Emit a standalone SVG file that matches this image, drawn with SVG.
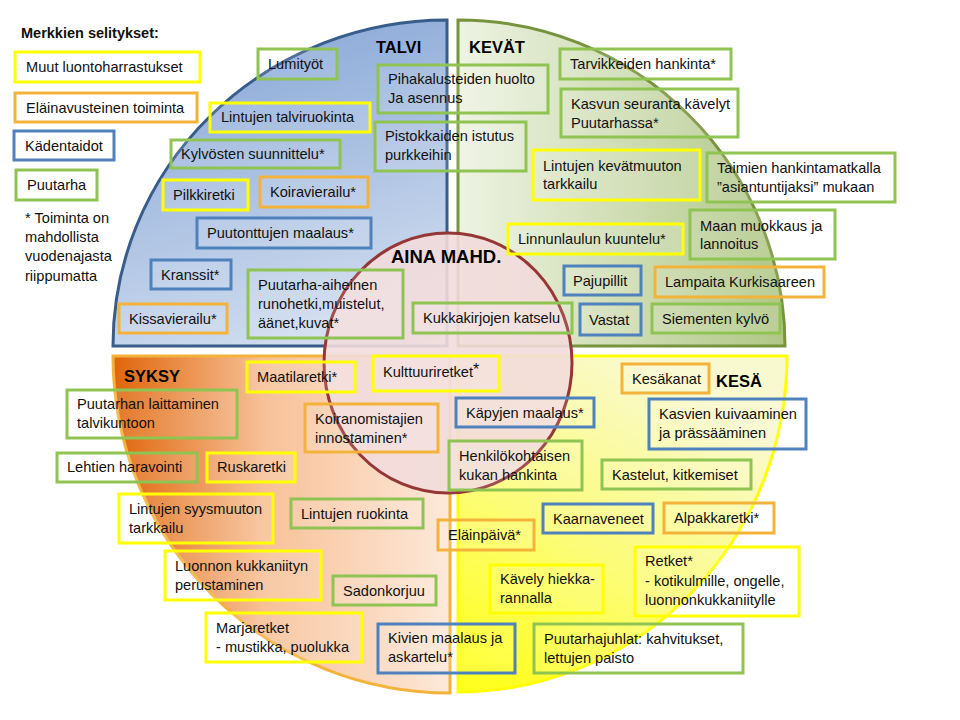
<svg xmlns="http://www.w3.org/2000/svg" width="960" height="720" viewBox="0 0 960 720">
<defs>
<linearGradient id="gTalvi" gradientUnits="userSpaceOnUse" x1="320" y1="20" x2="420" y2="346">
<stop offset="0" stop-color="#8dabd9"/><stop offset="1" stop-color="#d9e3f1"/>
</linearGradient>
<linearGradient id="gKevat" gradientUnits="userSpaceOnUse" x1="458" y1="0" x2="785" y2="0">
<stop offset="0" stop-color="#eef3e3"/><stop offset="1" stop-color="#b0c786"/>
</linearGradient>
<linearGradient id="gSyksy" gradientUnits="userSpaceOnUse" x1="113" y1="0" x2="450" y2="0">
<stop offset="0" stop-color="#e0650a"/><stop offset="0.45" stop-color="#f7c198"/><stop offset="1" stop-color="#fde9da"/>
</linearGradient>
<linearGradient id="gKesa" gradientUnits="userSpaceOnUse" x1="660" y1="370" x2="480" y2="670">
<stop offset="0" stop-color="#f9f9cf"/><stop offset="0.55" stop-color="#fcfc78"/><stop offset="1" stop-color="#ffff22"/>
</linearGradient>
</defs>
<style>
rect{fill:#fff;fill-opacity:0.12;stroke-width:3}
.y{stroke:#ffff00}
.o{stroke:#f3b33b}
.b{stroke:#4f81bd}
.g{stroke:#8fc453}
text{font-family:"Liberation Sans",Arial,sans-serif;font-size:14.6px;fill:#111}
.h{font-weight:bold;font-size:16.5px;fill:#000}
</style>
<rect width="960" height="720" fill="#fff" fill-opacity="1" stroke="none"/>

<g id="quadrants">
<path id="q-talvi" d="M447,346 L447,20 A334,326 0 0,0 113,346 Z" fill="url(#gTalvi)" stroke="#385d8a" stroke-width="3"/>
<path id="q-kevat" d="M458,346 L458,20 A327,326 0 0,1 785,346 Z" fill="url(#gKevat)" stroke="#77933c" stroke-width="3"/>
<path id="q-syksy" d="M450,356 L113,356 A337,337 0 0,0 450,693 Z" fill="url(#gSyksy)" stroke="#f3b33b" stroke-width="3"/>
<path id="q-kesa" d="M458,356 L787,356 A329,336 0 0,1 458,692 Z" fill="url(#gKesa)" stroke="#ffff00" stroke-width="3"/>
<ellipse id="q-aina" cx="448" cy="363" rx="124" ry="130" fill="#f2dcdb" fill-opacity="0.9" stroke="#953735" stroke-width="3"/>
</g>

<g id="legend">
<text x="21" y="38" style="font-weight:bold;font-size:14.5px">Merkkien selitykset:</text>
<g id="leg-muut"><rect class="y" x="15" y="52" width="185" height="30"/><text x="26" y="72">Muut luontoharrastukset</text></g>
<g id="leg-elain"><rect class="o" x="15" y="93" width="182" height="29"/><text x="26" y="113">Eläinavusteinen toiminta</text></g>
<g id="leg-kaden"><rect class="b" x="14" y="131" width="100" height="29"/><text x="25" y="151">Kädentaidot</text></g>
<g id="leg-puutarha"><rect class="g" x="16" y="170" width="81" height="30"/><text x="27" y="190">Puutarha</text></g>
<text x="25" y="223">* Toiminta on</text>
<text x="25" y="242">mahdollista</text>
<text x="25" y="261">vuodenajasta</text>
<text x="25" y="281">riippumatta</text>
</g>

<g id="labels">
<text class="h" x="376" y="53">TALVI</text>
<text class="h" x="469" y="53">KEVÄT</text>
<text class="h" x="124" y="382">SYKSY</text>
<text class="h" x="716" y="387">KESÄ</text>
<text class="h" x="391" y="263" style="font-size:18.5px">AINA MAHD.</text>
</g>

<g id="n-lumityot"><rect class="g" x="258" y="49" width="79" height="30"/><text x="268" y="69">Lumityöt</text></g>
<g id="n-talviruokinta"><rect class="y" x="210" y="103" width="160" height="29"/><text x="221" y="122">Lintujen talviruokinta</text></g>
<g id="n-kylvosten"><rect class="g" x="171" y="140" width="169" height="28"/><text x="181" y="159">Kylvösten suunnittelu*</text></g>
<g id="n-pilkkiretki"><rect class="y" x="163" y="180" width="85" height="30"/><text x="173" y="200">Pilkkiretki</text></g>
<g id="n-koiravierailu"><rect class="o" x="260" y="177" width="108" height="30"/><text x="270" y="197">Koiravierailu*</text></g>
<g id="n-puutonttujen"><rect class="b" x="197" y="218" width="174" height="30"/><text x="207" y="238">Puutonttujen maalaus*</text></g>
<g id="n-kranssit"><rect class="b" x="151" y="260" width="80" height="29"/><text x="161" y="280">Kranssit*</text></g>
<g id="n-runohetki"><rect class="g" x="248" y="270" width="155" height="68"/><text x="258" y="290">Puutarha-aiheinen</text><text x="258" y="309">runohetki,muistelut,</text><text x="258" y="328">äänet,kuvat*</text></g>
<g id="n-kissavierailu"><rect class="o" x="119" y="304" width="108" height="29"/><text x="129" y="324">Kissavierailu*</text></g>
<g id="n-pihakalusteet"><rect class="g" x="378" y="65" width="170" height="48"/><text x="388" y="84">Pihakalusteiden huolto</text><text x="388" y="103">Ja asennus</text></g>
<g id="n-pistokkaat"><rect class="g" x="375" y="122" width="151" height="49"/><text x="385" y="141">Pistokkaiden istutus</text><text x="385" y="160">purkkeihin</text></g>

<g id="n-tarvikkeet"><rect class="g" x="560" y="49" width="171" height="30"/><text x="570" y="69">Tarvikkeiden hankinta*</text></g>
<g id="n-kasvun"><rect class="g" x="561" y="89" width="177" height="48"/><text x="571" y="109">Kasvun seuranta kävelyt</text><text x="571" y="128">Puutarhassa*</text></g>
<g id="n-kevatmuutto"><rect class="y" x="533" y="150" width="167" height="50"/><text x="543" y="171">Lintujen kevätmuuton</text><text x="543" y="189">tarkkailu</text></g>
<g id="n-taimien"><rect class="g" x="707" y="153" width="188" height="49"/><text x="717" y="173">Taimien hankintamatkalla</text><text x="717" y="192">”asiantuntijaksi” mukaan</text></g>
<g id="n-maan"><rect class="g" x="690" y="210" width="145" height="49"/><text x="700" y="231">Maan muokkaus ja</text><text x="700" y="249">lannoitus</text></g>
<g id="n-linnunlaulu"><rect class="y" x="508" y="224" width="175" height="30"/><text x="518" y="244">Linnunlaulun kuuntelu*</text></g>
<g id="n-pajupillit"><rect class="b" x="564" y="266" width="77" height="29"/><text x="573" y="286">Pajupillit</text></g>
<g id="n-lampaita"><rect class="o" x="655" y="267" width="169" height="30"/><text x="665" y="287">Lampaita Kurkisaareen</text></g>
<g id="n-vastat"><rect class="b" x="580" y="304" width="61" height="31"/><text x="589" y="325">Vastat</text></g>
<g id="n-siementen"><rect class="g" x="652" y="304" width="128" height="29"/><text x="662" y="324">Siementen kylvö</text></g>

<g id="n-kukkakirjat"><rect class="g" x="413" y="303" width="159" height="30"/><text x="423" y="323">Kukkakirjojen katselu</text></g>
<g id="n-kulttuuri"><rect class="y" x="373" y="356" width="126" height="35"/><text x="383" y="377">Kulttuuriretket<tspan dy="-2" style="font-size:16px">*</tspan></text></g>
<g id="n-kapyjen"><rect class="b" x="456" y="398" width="138" height="29"/><text x="466" y="418">Käpyjen maalaus*</text></g>
<g id="n-koiranomistajat"><rect class="o" x="305" y="404" width="133" height="48"/><text x="315" y="424">Koiranomistajien</text><text x="315" y="443">innostaminen*</text></g>
<g id="n-henkilokohtainen"><rect class="g" x="449" y="441" width="133" height="49"/><text x="459" y="461">Henkilökohtaisen</text><text x="459" y="480">kukan hankinta</text></g>

<g id="n-maatila"><rect class="y" x="247" y="362" width="108" height="30"/><text x="257" y="382">Maatilaretki*</text></g>
<g id="n-puutarhan"><rect class="g" x="67" y="390" width="170" height="48"/><text x="77" y="409">Puutarhan laittaminen</text><text x="77" y="428">talvikuntoon</text></g>
<g id="n-lehtien"><rect class="g" x="57" y="453" width="140" height="29"/><text x="67" y="472">Lehtien haravointi</text></g>
<g id="n-ruskaretki"><rect class="y" x="207" y="453" width="88" height="29"/><text x="217" y="472">Ruskaretki</text></g>
<g id="n-syysmuutto"><rect class="y" x="119" y="494" width="154" height="49"/><text x="129" y="514">Lintujen syysmuuton</text><text x="129" y="533">tarkkailu</text></g>
<g id="n-ruokinta"><rect class="g" x="291" y="499" width="132" height="29"/><text x="301" y="519">Lintujen ruokinta</text></g>
<g id="n-niitty"><rect class="y" x="165" y="551" width="156" height="49"/><text x="175" y="571">Luonnon kukkaniityn</text><text x="175" y="590">perustaminen</text></g>
<g id="n-sadonkorjuu"><rect class="g" x="333" y="576" width="103" height="29"/><text x="343" y="596">Sadonkorjuu</text></g>
<g id="n-marjaretket"><rect class="y" x="206" y="613" width="156" height="49"/><text x="216" y="633">Marjaretket</text><text x="216" y="652">- mustikka, puolukka</text></g>
<g id="n-kivien"><rect class="b" x="378" y="624" width="137" height="49"/><text x="388" y="643">Kivien maalaus ja</text><text x="388" y="662">askartelu*</text></g>

<g id="n-kesakanat"><rect class="o" x="622" y="364" width="87" height="29"/><text x="632" y="384">Kesäkanat</text></g>
<g id="n-kasvien"><rect class="b" x="649" y="399" width="157" height="50"/><text x="659" y="419">Kasvien kuivaaminen</text><text x="659" y="438">ja prässääminen</text></g>
<g id="n-kastelut"><rect class="g" x="602" y="460" width="149" height="29"/><text x="612" y="480">Kastelut, kitkemiset</text></g>
<g id="n-kaarnaveneet"><rect class="b" x="543" y="504" width="110" height="29"/><text x="553" y="524">Kaarnaveneet</text></g>
<g id="n-alpakka"><rect class="o" x="664" y="503" width="110" height="30"/><text x="674" y="523">Alpakkaretki*</text></g>
<g id="n-elainpaiva"><rect class="o" x="438" y="520" width="96" height="30"/><text x="448" y="540">Eläinpäivä*</text></g>
<g id="n-retket"><rect class="y" x="635" y="547" width="164" height="69"/><text x="645" y="566">Retket*</text><text x="645" y="586">- kotikulmille, ongelle,</text><text x="645" y="605">luonnonkukkaniitylle</text></g>
<g id="n-kavely"><rect class="y" x="490" y="565" width="113" height="48"/><text x="500" y="584">Kävely hiekka-</text><text x="500" y="603">rannalla</text></g>
<g id="n-puutarhajuhlat"><rect class="g" x="534" y="624" width="209" height="49"/><text x="544" y="644">Puutarhajuhlat: kahvitukset,</text><text x="544" y="663">lettujen paisto</text></g>
</svg>
